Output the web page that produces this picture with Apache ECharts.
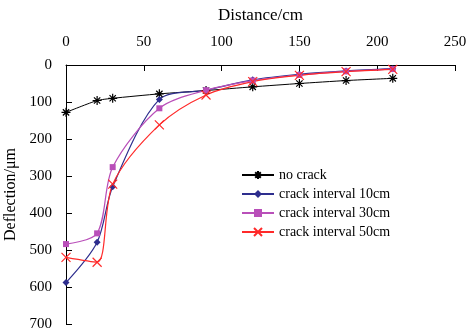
<!DOCTYPE html>
<html><head><meta charset="utf-8">
<script src="https://cdn.jsdelivr.net/npm/echarts@6/dist/echarts.min.js"></script>
<style>html,body{margin:0;padding:0;background:#fff}#c{width:466px;height:329px}</style>
</head><body><div id="c"></div>
<script>
const distances = [0, 20, 30, 60, 90, 120, 150, 180, 210];
const noCrack = [128, 96, 90, 78, 69, 59, 50, 42, 36];
const crack10 = [588, 479, 329, 93, 68, 40, 25, 16, 10];
const crack30 = [484, 455, 276, 117, 68, 42, 27, 17, 11];
const crack50 = [520, 533, 322, 162, 81, 45, 28, 18, 12];
const xTicks = [0, 50, 100, 150, 200, 250];
const yTicks = [0, 100, 200, 300, 400, 500, 600, 700];

const font = 'Liberation Serif, Times New Roman, serif';
const asterisk = 'path://M0,-10L0,10M-10,0L10,0M-7,-7L7,7M-7,7L7,-7';
const xMark = 'path://M-10,-10L10,10M-10,10L10,-10';

function pairs(vals){ return distances.map((d,i)=>[d, vals[i]]); }

const chart = echarts.init(document.getElementById('c'));
chart.setOption({
  animation: false,
  textStyle: {fontFamily: font},
  grid: {left: 66, right: 11, top: 65, bottom: 5, outerBoundsMode: 'none', containLabel: false},
  xAxis: {
    type: 'value', position: 'top', min: 0, max: 250, interval: 50,
    name: 'Distance/cm', nameLocation: 'middle', nameGap: 41,
    nameTextStyle: {fontFamily: font, fontSize: 17, color: '#000'},
    axisLine: {show: true, lineStyle: {color: '#000', width: 1}},
    axisTick: {show: true, inside: true, length: 6, lineStyle: {color: '#000'}},
    axisLabel: {fontFamily: font, fontSize: 15, color: '#000', margin: 15,
      formatter: v => xTicks.includes(v) ? String(v) : ''},
    splitLine: {show: false}
  },
  yAxis: {
    type: 'value', inverse: true, min: 0, max: 700, interval: 100,
    name: 'Deflection/\u03bcm', nameLocation: 'middle', nameGap: 45, nameRotate: 90,
    nameTextStyle: {fontFamily: font, fontSize: 16, color: '#000'},
    axisLine: {show: true, onZero: false, lineStyle: {color: '#000', width: 1}},
    axisTick: {show: true, inside: true, length: 6, lineStyle: {color: '#000'}},
    axisLabel: {fontFamily: font, fontSize: 15, color: '#000', margin: 14,
      formatter: v => yTicks.includes(v) ? String(v) : ''},
    splitLine: {show: false}
  },
  legend: {
    orient: 'vertical', left: 236, top: 163, itemWidth: 32, itemHeight: 10, itemGap: 5,
    textStyle: {fontFamily: font, fontSize: 14, color: '#000'},
    data: ['no crack', 'crack interval 10cm', 'crack interval 30cm', 'crack interval 50cm']
  },
  series: [
    {name: 'no crack', type: 'line', data: pairs(noCrack), smooth: 0.2,
     symbol: asterisk, symbolSize: 9, color: '#000',
     lineStyle: {color: '#000', width: 1},
     itemStyle: {color: '#000', borderColor: '#000', borderWidth: 1.2}},
    {name: 'crack interval 10cm', type: 'line', data: pairs(crack10), smooth: 0.3,
     symbol: 'diamond', symbolSize: 7, color: '#2E2E8E',
     lineStyle: {color: '#2E2E8E', width: 1.2},
     itemStyle: {color: '#2E2E8E'}},
    {name: 'crack interval 30cm', type: 'line', data: pairs(crack30), smooth: 0.3,
     symbol: 'rect', symbolSize: 6, color: '#B94FB9',
     lineStyle: {color: '#B94FB9', width: 1.2},
     itemStyle: {color: '#B94FB9'}},
    {name: 'crack interval 50cm', type: 'line', data: pairs(crack50), smooth: 0.3,
     symbol: xMark, symbolSize: 9, color: '#FF2A2A',
     lineStyle: {color: '#FF2A2A', width: 1.2},
     itemStyle: {color: '#FF2A2A', borderColor: '#FF2A2A', borderWidth: 1.2}}
  ]
});
</script></body></html>
